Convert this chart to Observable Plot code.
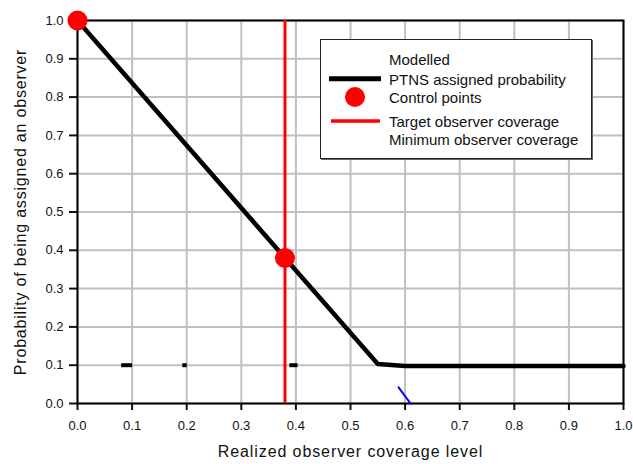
<!DOCTYPE html>
<html>
<head>
<meta charset="utf-8">
<script src="https://cdn.jsdelivr.net/npm/d3@7"></script>
<script src="https://cdn.jsdelivr.net/npm/@observablehq/plot@0.6"></script>
<style>
  body { margin: 0; background: #fff; font-family: "Liberation Sans", Arial, sans-serif; }
  #wrap { position: relative; width: 633px; height: 464px; overflow: hidden; }
  #wrap > svg { overflow: visible; }
  #legend { position: absolute; left: 320px; top: 39px; width: 270px; height: 118px;
    border: 1px solid #222; background: #fff; box-shadow: 1px 1px 0 #666; }
  #legend svg { position: absolute; left: 0; top: 0; font-family: "Liberation Sans", Arial, sans-serif; }
</style>
</head>
<body>
<div id="wrap"></div>
<script>
// Data
const modelX = [0, 0.38, 0.55, 0.6, 1.0];
const modelY = [1.0, 0.38, 0.103, 0.098, 0.098];
const controlX = [0, 0.38];
const controlY = [1.0, 0.38];
const targetCoverage = [0.38];
const stubX1 = [0.08, 0.192, 0.388];
const stubX2 = [0.10, 0.200, 0.403];
const stubY = [0.1, 0.1, 0.1];
const blueX = [0.588, 0.61];
const blueY = [0.042, 0.0];
const ticks = [0, 0.1, 0.2, 0.3, 0.4, 0.5, 0.6, 0.7, 0.8, 0.9, 1.0];
const xLabel = "Realized observer coverage level";
const yLabel = "Probability of being assigned an observer";
const legendLabels = ["Modelled", "PTNS assigned probability", "Control points", "Target observer coverage", "Minimum observer coverage"];

const model = modelX.map((x, i) => ({x, y: modelY[i]}));
const control = controlX.map((x, i) => ({x, y: controlY[i]}));
const stubs = stubX1.map((x1, i) => ({x1, x2: stubX2[i], y: stubY[i]}));
const blue = blueX.map((x, i) => ({x, y: blueY[i]}));
const fmt = d3.format(".1f");

const chart = Plot.plot({
  width: 633, height: 464,
  marginLeft: 77, marginRight: 10, marginTop: 20, marginBottom: 61,
  style: {fontFamily: "Liberation Sans, Arial, sans-serif", background: "white", overflow: "visible"},
  x: {domain: [0, 1]},
  y: {domain: [0, 1]},
  marks: [
    Plot.gridX(ticks, {stroke: "#c0c0c0", strokeOpacity: 1, strokeWidth: 2}),
    Plot.gridY(ticks, {stroke: "#c0c0c0", strokeOpacity: 1, strokeWidth: 2}),
    Plot.axisX({ticks, tickFormat: fmt, tickSize: 7, tickPadding: 10, fontSize: 13, label: null, strokeWidth: 2, color: "#111"}),
    Plot.axisY({ticks, tickFormat: fmt, tickSize: 8, tickPadding: 6, fontSize: 13, label: null, strokeWidth: 2, color: "#111"}),
    Plot.frame({stroke: "black", strokeWidth: 2}),
    Plot.ruleX(targetCoverage, {stroke: "#ff0000", strokeWidth: 3}),
    Plot.line(model, {x: "x", y: "y", stroke: "black", strokeWidth: 4.5}),
    Plot.link(stubs, {x1: "x1", x2: "x2", y1: "y", y2: "y", stroke: "black", strokeWidth: 4}),
    Plot.line(blue, {x: "x", y: "y", stroke: "#0000ff", strokeWidth: 2}),
    Plot.dot(control, {x: "x", y: "y", r: 10, fill: "#ff0000", stroke: "none"}),
    Plot.text([xLabel], {frameAnchor: "bottom", dy: 53, dx: 0, fontSize: 16, fill: "#111"}),
    Plot.text([yLabel], {frameAnchor: "left", textAnchor: "middle", rotate: -90, dx: -57, dy: 0, fontSize: 16, fill: "#111"})
  ]
});
d3.select(chart).selectAll("text").filter(function() { return this.textContent === xLabel; })
  .attr("letter-spacing", "0.9px");
d3.select(chart).selectAll("text").filter(function() { return this.textContent === yLabel; })
  .attr("letter-spacing", "0.8px");
const wrap = document.getElementById("wrap");
wrap.appendChild(chart);

// Legend
const leg = document.createElement("div");
leg.id = "legend";
const baselines = [25, 44.5, 63, 87, 104.5];
leg.innerHTML = `<svg width="270" height="118">
  <line x1="8" x2="60" y1="38.7" y2="38.7" stroke="black" stroke-width="5"/>
  <circle cx="34" cy="57" r="10" fill="#ff0000"/>
  <line x1="10" x2="59" y1="81" y2="81" stroke="#ff0000" stroke-width="3.5"/>
  ${legendLabels.map((t, i) => `<text x="68" y="${baselines[i]}" font-size="15" fill="#111">${t}</text>`).join("")}
</svg>`;
wrap.appendChild(leg);
</script>
</body>
</html>
